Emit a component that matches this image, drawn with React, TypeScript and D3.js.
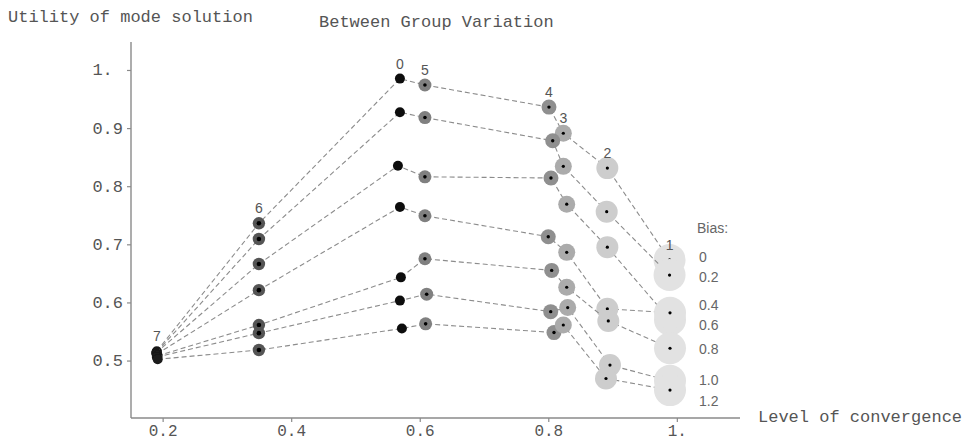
import React from "react";
import * as d3 from "d3";

// ---- data ----
const stageLabels = ["7", "6", "0", "5", "4", "3", "2", "1"];
const biasLabels = ["0", "0.2", "0.4", "0.6", "0.8", "1.0", "1.2"];

const convBias00 = [0.1902, 0.349, 0.5684, 0.6073, 0.8003, 0.8226, 0.8911, 0.9879];
const utilBias00 = [0.517, 0.737, 0.986, 0.975, 0.937, 0.892, 0.832, 0.674];
const convBias02 = [0.1902, 0.349, 0.5684, 0.6073, 0.8061, 0.8226, 0.8901, 0.9879];
const utilBias02 = [0.5155, 0.71, 0.928, 0.919, 0.879, 0.835, 0.757, 0.648];
const convBias04 = [0.189, 0.349, 0.5653, 0.6073, 0.8034, 0.8279, 0.8911, 0.9886];
const utilBias04 = [0.514, 0.667, 0.836, 0.817, 0.815, 0.77, 0.696, 0.571];
const convBias06 = [0.1902, 0.349, 0.5684, 0.6073, 0.7992, 0.8279, 0.8911, 0.9886];
const utilBias06 = [0.512, 0.622, 0.765, 0.75, 0.714, 0.687, 0.59, 0.583];
const convBias08 = [0.1915, 0.349, 0.5699, 0.6073, 0.8045, 0.8279, 0.8926, 0.9886];
const utilBias08 = [0.509, 0.562, 0.644, 0.676, 0.656, 0.627, 0.569, 0.522];
const convBias10 = [0.1902, 0.349, 0.5684, 0.61, 0.803, 0.8294, 0.8952, 0.9886];
const utilBias10 = [0.507, 0.548, 0.604, 0.615, 0.585, 0.592, 0.493, 0.466];
const convBias12 = [0.1915, 0.349, 0.5715, 0.6084, 0.8081, 0.8226, 0.889, 0.9886];
const utilBias12 = [0.503, 0.519, 0.556, 0.564, 0.549, 0.562, 0.47, 0.45];

const xTicks = [0.2, 0.4, 0.6, 0.8, 1.0];
const xTickLabels = ["0.2", "0.4", "0.6", "0.8", "1."];
const yTicks = [0.5, 0.6, 0.7, 0.8, 0.9, 1.0];
const yTickLabels = ["0.5", "0.6", "0.7", "0.8", "0.9", "1. "];

const convSeries = [convBias00, convBias02, convBias04, convBias06, convBias08, convBias10, convBias12];
const utilSeries = [utilBias00, utilBias02, utilBias04, utilBias06, utilBias08, utilBias10, utilBias12];

// ---- styles (per stage) ----
const haloRadius = [5, 6.2, 5, 6.5, 7.5, 8.5, 11, 16];
const haloFill = ["#1a1a1a", "#555555", "#111111", "#808080", "#8f8f8f", "#ababab", "#cdcdcd", "#e2e2e2"];
const dotRadius = [0, 2.3, 0, 1.8, 1.7, 1.6, 1.6, 1.6];
const legendY = [257, 277, 305, 325, 349, 380, 401];

const W = 966;
const H = 441;
const mono = "'Liberation Mono', 'DejaVu Sans Mono', monospace";
const sans = "'Liberation Sans', Arial, sans-serif";

export default function App() {
  const x = d3.scaleLinear().domain([0.15, 1.0975]).range([131, 740]);
  const y = d3.scaleLinear().domain([0.402, 1.049]).range([418, 42]);

  const series = convSeries.map((cs, i) =>
    cs.map((c, j) => ({ x: x(c), y: y(utilSeries[i][j]), stage: j }))
  );
  const line = d3
    .line<{ x: number; y: number }>()
    .x((d) => d.x)
    .y((d) => d.y);

  const axisColor = "#8a8a8a";
  const textColor = "#555555";

  return (
    <svg
      width={W}
      height={H}
      viewBox={`0 0 ${W} ${H}`}
      style={{ position: "absolute", left: 0, top: 0, background: "#fff" }}
    >
      <defs>
        <filter id="soft" x="-20%" y="-20%" width="140%" height="140%">
          <feGaussianBlur stdDeviation="0.7" />
        </filter>
      </defs>
      <rect x={0} y={0} width={W} height={H} fill="#fff" />

      {/* axes */}
      <line x1={x(0.15)} x2={x(1.0975)} y1={y(0.402)} y2={y(0.402)} stroke={axisColor} strokeWidth={1.4} />
      <line x1={x(0.15)} x2={x(0.15)} y1={y(0.402)} y2={y(1.049)} stroke={axisColor} strokeWidth={1.4} />
      {xTicks.map((t, i) => (
        <g key={"xt" + i}>
          <line x1={x(t)} x2={x(t)} y1={y(0.402)} y2={y(0.402) + 4} stroke={axisColor} strokeWidth={1.2} />
          <text x={x(t)} y={436} textAnchor="middle" fontFamily={mono} fontSize={16} fill={textColor}>
            {xTickLabels[i]}
          </text>
        </g>
      ))}
      {yTicks.map((t, i) => (
        <g key={"yt" + i}>
          <line x1={x(0.15) - 4} x2={x(0.15)} y1={y(t)} y2={y(t)} stroke={axisColor} strokeWidth={1.2} />
          <text
            x={123}
            y={y(t) + 5}
            textAnchor="end"
            fontFamily={mono}
            fontSize={17}
            fill={textColor}
            style={{ whiteSpace: "pre" }}
          >
            {yTickLabels[i]}
          </text>
        </g>
      ))}

      {/* axis titles */}
      <text x={8} y={22} fontFamily={mono} fontSize={17} fill={textColor}>
        Utility of mode solution
      </text>
      <text x={319} y={27} fontFamily={mono} fontSize={17} fill={textColor}>
        Between Group Variation
      </text>
      <text x={758} y={422} fontFamily={mono} fontSize={17} fill={textColor}>
        Level of convergence
      </text>

      {/* series */}
      <g filter="url(#soft)">
        {series.map((pts, i) => (
          <g key={"s" + i}>
            <path d={line(pts) || ""} fill="none" stroke="#8c8c8c" strokeWidth={1.1} strokeDasharray="5,3" />
            {pts.map((p, j) => (
              <g key={"p" + j}>
                <circle cx={p.x} cy={p.y} r={haloRadius[p.stage]} fill={haloFill[p.stage]} />
                {dotRadius[p.stage] > 0 && <circle cx={p.x} cy={p.y} r={dotRadius[p.stage]} fill="#000" />}
              </g>
            ))}
          </g>
        ))}
      </g>

      {/* stage labels above the top series */}
      {stageLabels.map((s, j) => (
        <text
          key={"st" + j}
          x={series[0][j].x}
          y={series[0][j].y - 10}
          textAnchor="middle"
          fontFamily={sans}
          fontSize={14}
          fill="#555"
        >
          {s}
        </text>
      ))}

      {/* legend */}
      <text x={697} y={233} fontFamily={sans} fontSize={14} fill="#666">
        Bias:
      </text>
      {biasLabels.map((b, i) => (
        <text key={"lg" + i} x={699} y={legendY[i] + 5} fontFamily={sans} fontSize={14} fill="#666">
          {b}
        </text>
      ))}
    </svg>
  );
}
